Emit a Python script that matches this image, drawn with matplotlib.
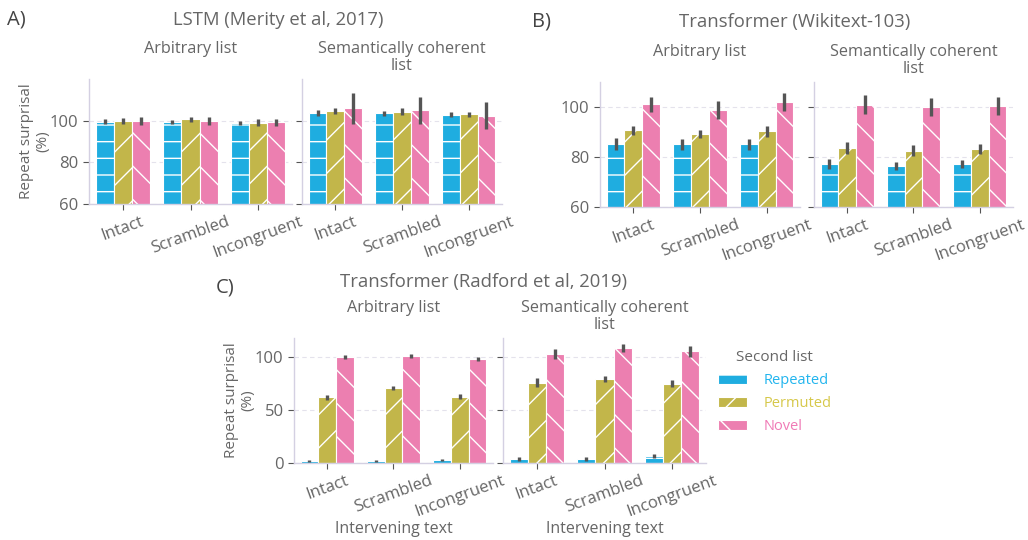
import numpy as np
import matplotlib.pyplot as plt
from matplotlib.patches import Patch

plt.rcParams['font.family'] = ['Open Sans', 'DejaVu Sans']
plt.rcParams['hatch.color'] = 'white'
plt.rcParams['hatch.linewidth'] = 1.0

CONDITIONS = ["Intact", "Scrambled", "Incongruent"]
SERIES = ["Repeated", "Permuted", "Novel"]
COLORS = ["#1fade0", "#c2b64a", "#ec7fb0"]
TEXT_COLORS = ["#22b5ee", "#d6c84a", "#f07ab6"]
HATCHES = ["-", "/", "\\"]

# rows = series (Repeated, Permuted, Novel), cols = conditions
lstm_arb = [[99.5, 99.4, 98.9], [99.8, 100.6, 99.0], [99.7, 100.0, 99.2]]
lstm_arb_err = [[1.1, 1.1, 1.0], [1.4, 1.35, 1.6], [2.0, 1.9, 1.8]]
lstm_sem = [[103.8, 103.5, 102.9], [104.6, 104.3, 103.0], [106.0, 105.0, 102.4]]
lstm_sem_err = [[1.4, 1.1, 1.3], [1.6, 1.7, 1.35], [7.5, 6.5, 6.5]]

wt103_arb = [[85.1, 85.0, 85.1], [90.7, 89.1, 90.2], [101.1, 98.8, 101.9]]
wt103_arb_err = [[2.3, 2.1, 2.2], [1.8, 1.7, 2.3], [3.0, 3.5, 3.6]]
wt103_sem = [[77.2, 76.4, 77.2], [83.5, 82.4, 83.1], [100.9, 100.0, 100.3]]
wt103_sem_err = [[2.0, 1.7, 1.5], [2.3, 2.2, 2.0], [3.7, 3.6, 3.5]]

gpt2_arb = [[1.6, 1.9, 2.8], [62.0, 70.8, 62.6], [99.7, 101.0, 98.4]]
gpt2_arb_err = [[0.8, 0.8, 0.9], [2.4, 2.2, 2.4], [1.9, 1.9, 2.0]]
gpt2_sem = [[3.5, 3.8, 6.9], [75.8, 79.6, 74.8], [102.8, 108.5, 105.3]]
gpt2_sem_err = [[2.0, 1.5, 2.0], [4.0, 3.0, 3.5], [5.0, 4.0, 5.5]]

TXT = "#666666"
SPINE = "#d4d0e2"


def draw(ax, means, errs, ylim, yticks, show_ylab, xlab, title):
    x = np.arange(len(CONDITIONS))
    w = 0.8 / 3
    for i in range(3):
        pos = x - 0.8 / 2 + w * (i + 0.5)
        ax.bar(pos, means[i], width=w, color=COLORS[i], hatch=HATCHES[i],
               edgecolor="white", linewidth=0.8, zorder=2)
        ax.errorbar(pos, means[i], yerr=errs[i], fmt="none", ecolor="#555555",
                    elinewidth=2.4, capsize=0, zorder=3)
    ax.set_xlim(-0.5, 2.5)
    ax.set_ylim(*ylim)
    ax.set_yticks(yticks)
    ax.set_xticks(x)
    ax.set_xticklabels(CONDITIONS, rotation=20, ha="center")
    ax.grid(axis="y", color="#e4e2ec", linestyle=(0, (4, 3)), linewidth=0.8, zorder=0)
    ax.set_axisbelow(True)
    for s in ["top", "right"]:
        ax.spines[s].set_visible(False)
    for s in ["left", "bottom"]:
        ax.spines[s].set_color(SPINE)
        ax.spines[s].set_linewidth(1.0)
    ax.tick_params(axis="both", colors="#555555", labelsize=12, length=4,
                   labelcolor=TXT)
    ax.tick_params(axis="x", pad=3)
    if show_ylab:
        ax.set_ylabel("Repeat surprisal\n(%)", color=TXT, fontsize=11, linespacing=1.1,
                      labelpad=0)
    else:
        ax.tick_params(axis="y", labelleft=False)
    if xlab:
        ax.set_xlabel("Intervening text", color=TXT, fontsize=11.5, labelpad=1)
    # subtitle top-aligned above the axes
    ax.text(0.5, 1 + 38 / 125, title, transform=ax.transAxes, ha="center", va="top",
            color=TXT, fontsize=11.7, linespacing=1.05)


fig = plt.figure(figsize=(10.28, 5.4), dpi=100)
H = 125 / 540


def add_ax(x0, x1, ytop):
    return fig.add_axes([x0 / 1028, 1 - (ytop + 125) / 540, (x1 - x0) / 1028, H])


a1 = add_ax(89, 292, 79)
a2 = add_ax(302, 502, 79)
b1 = add_ax(600, 800, 82)
b2 = add_ax(814, 1013, 82)
c1 = add_ax(294, 493, 338)
c2 = add_ax(503, 706, 338)

draw(a1, lstm_arb, lstm_arb_err, (60, 120), [60, 80, 100], True, False, "Arbitrary list")
draw(a2, lstm_sem, lstm_sem_err, (60, 120), [60, 80, 100], False, False, "Semantically coherent\nlist")
draw(b1, wt103_arb, wt103_arb_err, (60, 110), [60, 80, 100], False, False, "Arbitrary list")
draw(b2, wt103_sem, wt103_sem_err, (60, 110), [60, 80, 100], False, False, "Semantically coherent\nlist")
b1.tick_params(axis="y", labelleft=True)
draw(c1, gpt2_arb, gpt2_arb_err, (0, 118), [0, 50, 100], True, True, "Arbitrary list")
draw(c2, gpt2_sem, gpt2_sem_err, (0, 118), [0, 50, 100], False, True, "Semantically coherent\nlist")

# panel titles and letters
fig.text(278 / 1028, 1 - 20 / 540, "LSTM (Merity et al, 2017)", ha="center", va="center",
         fontsize=13.3, color=TXT)
fig.text(795 / 1028, 1 - 22 / 540, "Transformer (Wikitext-103)", ha="center", va="center",
         fontsize=13.3, color=TXT)
fig.text(484 / 1028, 1 - 282 / 540, "Transformer (Radford et al, 2019)", ha="center", va="center",
         fontsize=13.3, color=TXT)
fig.text(7 / 1028, 1 - 20 / 540, "A)", ha="left", va="center", fontsize=14.5, color="#444444")
fig.text(532 / 1028, 1 - 22 / 540, "B)", ha="left", va="center", fontsize=14.5, color="#444444")
fig.text(216 / 1028, 1 - 287 / 540, "C)", ha="left", va="center", fontsize=14.5, color="#444444")

handles = [Patch(facecolor=COLORS[i], hatch=HATCHES[i], edgecolor="white", linewidth=0.8)
           for i in range(3)]
leg = fig.legend(handles, SERIES, title="Second list", loc="center left",
                 bbox_to_anchor=(705 / 1028, 1 - 392 / 540), frameon=False,
                 fontsize=10.5, title_fontsize=11, handlelength=2.0, handleheight=0.7,
                 labelspacing=0.55, handletextpad=1.1)
leg.get_title().set_color(TXT)
for t, c in zip(leg.get_texts(), TEXT_COLORS):
    t.set_color(c)

fig.savefig("out.png", dpi=100)
